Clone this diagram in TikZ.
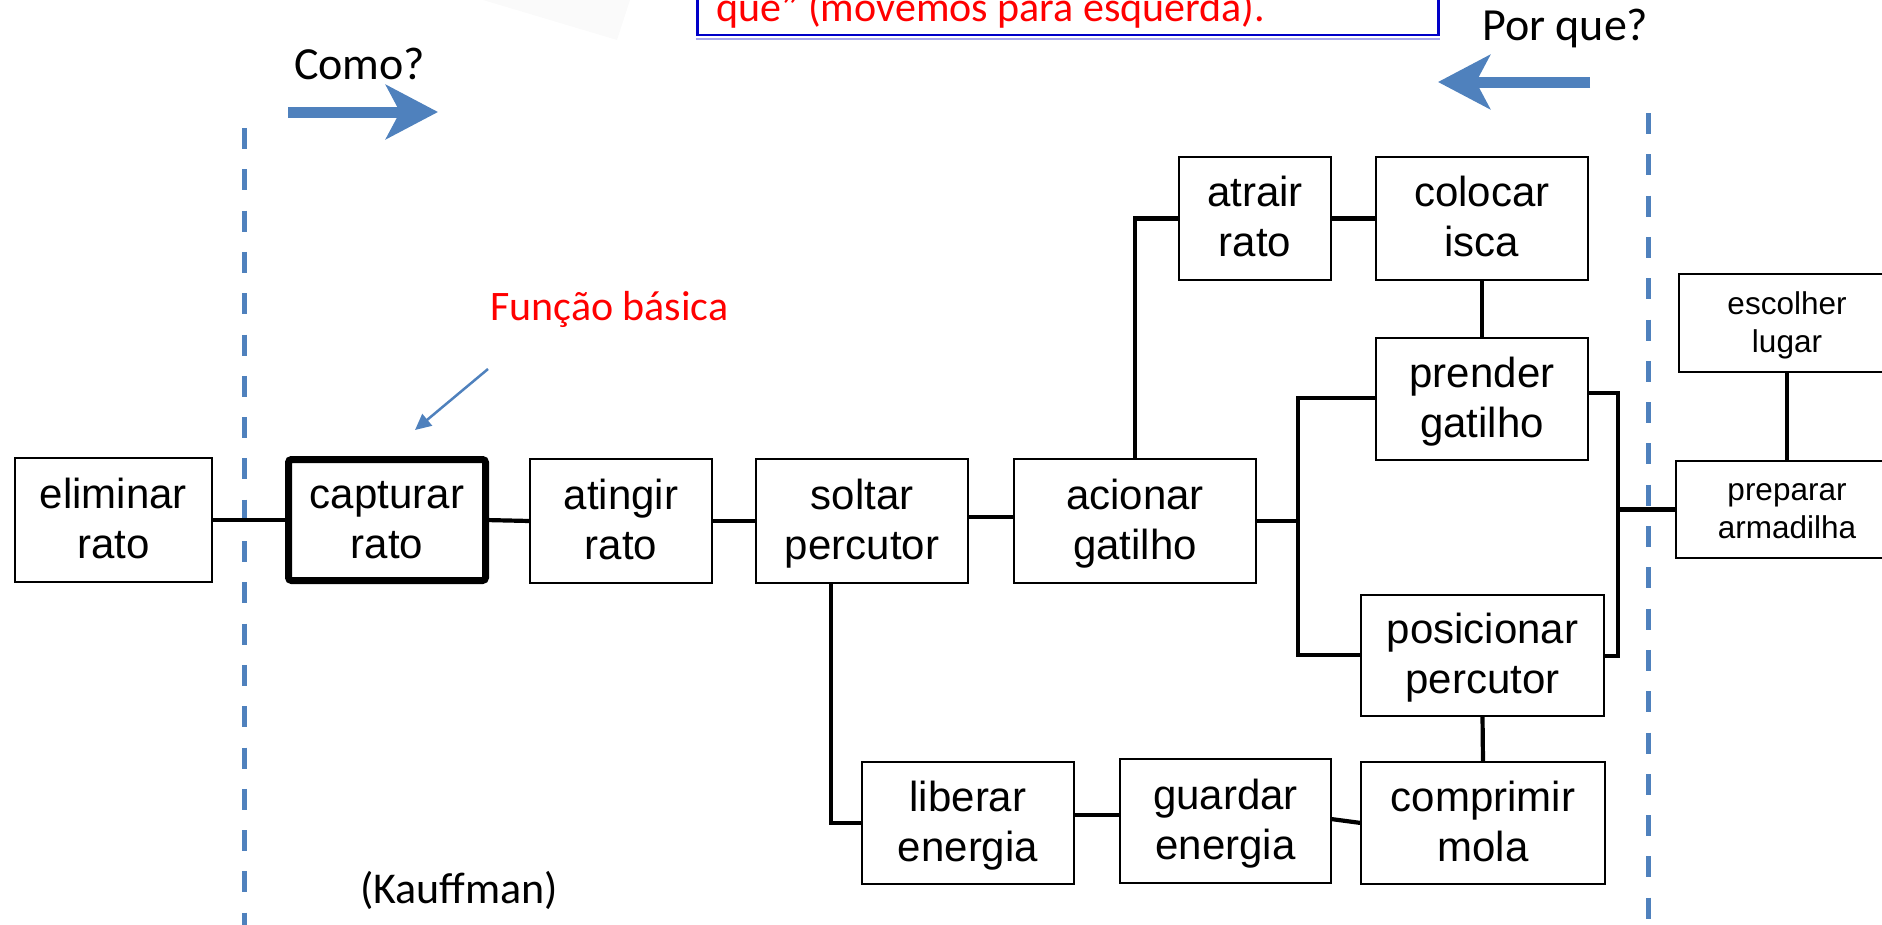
\documentclass[tikz,border=0pt]{standalone}
\usepackage{fontspec}
\setmainfont{Liberation Sans}
\newfontfamily\calib{Carlito}
\usetikzlibrary{arrows.meta,calc}
\definecolor{ablue}{HTML}{4F81BD}
\definecolor{cblue}{HTML}{0000C8}
\newcommand{\twol}[2]{\rule{0pt}{35pt}#1\\#2\rule[-9pt]{0pt}{9pt}}
\newcommand{\twos}[2]{\rule{0pt}{27pt}#1\\#2\rule[-7pt]{0pt}{7pt}}
\begin{document}
\begin{tikzpicture}[x=1pt,y=-1pt,
 fbox/.style={draw, line width=2.8pt, inner sep=0pt, outer sep=0pt, align=center, fill=white, font=\fontsize{42}{50}\selectfont},
 sbox/.style={fbox, font=\fontsize{31.5}{38}\selectfont},
 conn/.style={line width=4.2pt},
 bigarrow/.style={ablue, line width=11pt, -{Stealth[length=52pt,width=54pt,inset=14pt]}},
 dline/.style={ablue, line width=5pt, dash pattern=on 21pt off 20.3pt},
 ctext/.style={anchor=base west, inner sep=0pt, font=\calib\fontsize{46}{50}\selectfont},
]
\useasboundingbox (0,0) rectangle (1882,924);
\clip (0,0) rectangle (1882,924);

% faint shape at top
\fill[black!2] (483,0) -- (630,0) -- (617,40) -- cycle;

% callout box (cut off at top)
\node[draw=cblue, line width=2.5pt, fill=white, minimum width=741pt, minimum height=100pt, anchor=south west, inner sep=0pt] (callout) at (696,36) {};
\draw[cblue!35, line width=2pt] ([yshift=-2.5pt]callout.south west) -- ([yshift=-2.5pt]callout.south east);
\node[ctext, font=\calib\fontsize{42}{50}\selectfont, text=red] (calltext) at (716,21) {que” (movemos para esquerda).};

% direction labels and arrows
\node[ctext] (como) at (294,79) {Como?};
\node[ctext] (porque) at (1482,40) {Por que?};
\coordinate (ra1) at (288,112); \coordinate (ra2) at (438,112);
\draw[bigarrow] (ra1) -- (ra2);
\coordinate (la1) at (1590,82); \coordinate (la2) at (1438,82);
\draw[bigarrow] (la1) -- (la2);

% dashed lines
\coordinate (dl1) at (244,128); \coordinate (dl2) at (244,940);
\draw[dline] (dl1) -- (dl2);
\coordinate (dr1) at (1648,113); \coordinate (dr2) at (1648,940);
\draw[dline] (dr1) -- (dr2);

% boxes
\node[fbox, minimum width=197pt, minimum height=124pt] (elim) at (113.5,520) {\twol{eliminar}{rato}};
\node[fbox, line width=7pt, rounded corners=3pt, minimum width=197pt, minimum height=121pt] (capt) at (387,520) {\twol{capturar}{rato}};
\node[fbox, minimum width=182pt, minimum height=124pt] (ating) at (621,521) {\twol{atingir}{rato}};
\node[fbox, minimum width=212pt, minimum height=124pt] (solt) at (862,521) {\twol{soltar}{percutor}};
\node[fbox, minimum width=242pt, minimum height=124pt] (acion) at (1135,521) {\twol{acionar}{gatilho}};
\node[fbox, minimum width=152pt, minimum height=123pt] (atrair) at (1255,218.5) {\twol{atrair}{rato}};
\node[fbox, minimum width=212pt, minimum height=123pt] (coloc) at (1482,218.5) {\twol{colocar}{isca}};
\node[fbox, minimum width=212pt, minimum height=122pt] (prend) at (1482,399) {\twol{prender}{gatilho}};
\node[fbox, minimum width=243pt, minimum height=121pt] (posic) at (1482.5,655.5) {\twol{posicionar}{percutor}};
\node[fbox, minimum width=212pt, minimum height=122pt] (liber) at (968,823) {\twol{liberar}{energia}};
\node[fbox, minimum width=211pt, minimum height=124pt] (guard) at (1225.5,821) {\twol{guardar}{energia}};
\node[fbox, minimum width=244pt, minimum height=122pt] (compr) at (1483,823) {\twol{comprimir}{mola}};
\node[sbox, minimum width=216pt, minimum height=98pt] (escol) at (1787,323) {\twos{escolher}{lugar}};
\node[sbox, minimum width=222pt, minimum height=97pt] (prep) at (1787,509.5) {\twos{preparar}{armadilha}};

% connectors
\draw[conn] (elim.east) -- (capt.west);
\draw[conn] (capt.east) -- (ating.west);
\draw[conn] (ating.east) -- (solt.west);
\draw[conn] ([yshift=4pt]solt.east) -- ([yshift=4pt]acion.west);
\coordinate (busA) at (1298,521);
\coordinate (busAtop) at (1298,398);
\coordinate (busAbot) at (1298,655);
\draw[conn] (acion.east) -- (busA);
\draw[conn] (prend.west |- busAtop) -- (busAtop) -- (busAbot) -- (posic.west |- busAbot);
\draw[conn] (acion.north) |- (atrair.west);
\draw[conn] (atrair.east) -- (coloc.west);
\draw[conn] (coloc.south) -- (prend.north);
\coordinate (bBt) at (1618,393);
\coordinate (bBb) at (1618,656);
\draw[conn] (prend.east |- bBt) -- (bBt) -- (bBb) -- (posic.east |- bBb);
\draw[conn] (bBt |- prep.west) -- (prep.west);
\draw[conn] (escol.south) -- (prep.north);
\draw[conn] ([xshift=-31pt]solt.south) |- (liber.west);
\draw[conn] ([yshift=8pt]liber.east) -- ([yshift=8pt]liber.east -| guard.west);
\draw[conn] ([yshift=2pt]guard.east) -- (compr.west);
\draw[conn] (posic.south) -- (compr.north);

% annotation
\node[ctext, font=\calib\fontsize{42}{50}\selectfont, text=red] (func) at (490,320) {Função básica};
\coordinate (fa1) at (488,369); \coordinate (fa2) at (415,430);
\draw[ablue, line width=2.5pt, -{Triangle[length=16pt,width=15pt]}] (fa1) -- (fa2);

\node[ctext, font=\calib\fontsize{44}{50}\selectfont] (kauf) at (360,903) {(Kauffman)};
\end{tikzpicture}
\end{document}
